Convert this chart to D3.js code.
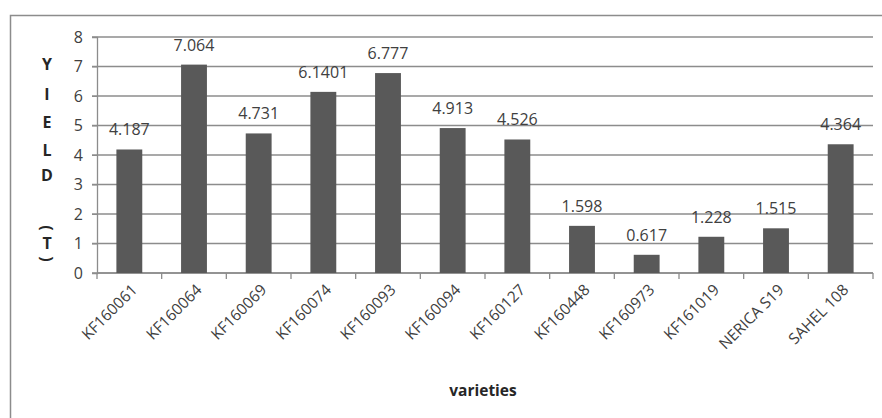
<!DOCTYPE html>
<html>
<head>
<meta charset="utf-8">
<script src="https://cdn.jsdelivr.net/npm/d3@7"></script>
<style>
  body { margin: 0; background: #fff; }
  text { font-family: "Open Sans", "Liberation Sans", sans-serif; }
</style>
</head>
<body>
<script>
let varieties = ["KF160061", "KF160064", "KF160069", "KF160074", "KF160093", "KF160094",
                 "KF160127", "KF160448", "KF160973", "KF161019", "NERICA S19", "SAHEL 108"];
let yieldValues = [4.187, 7.064, 4.731, 6.1401, 6.777, 4.913, 4.526, 1.598, 0.617, 1.228, 1.515, 4.364];
let yieldLabels = ["4.187", "7.064", "4.731", "6.1401", "6.777", "4.913", "4.526", "1.598", "0.617", "1.228", "1.515", "4.364"];
let yTicks = [0, 1, 2, 3, 4, 5, 6, 7, 8];
let yTitleChars = ["Y", "I", "E", "L", "D", "", "(", "T", ")"];

let margin = {top: 37, left: 97},
    width  = 776,
    height = 236;

let svg = d3.select("body").append("svg")
    .attr("width", 882)
    .attr("height", 418);

// outer chart border
svg.append("rect")
    .attr("x", 10.5).attr("y", 15.5)
    .attr("width", 900).attr("height", 500)
    .attr("fill", "none")
    .attr("stroke", "#8c8c8c")
    .attr("stroke-width", 1.5);

let g = svg.append("g")
    .attr("transform", `translate(${margin.left}, ${margin.top})`);

let xScale = d3.scaleBand()
    .domain(varieties)
    .range([0, width])
    .paddingInner(0.6)
    .paddingOuter(0.3);
let yScale = d3.scaleLinear()
    .domain([0, 8])
    .range([height, 0]);

// gridlines
g.append("g")
  .selectAll("line")
  .data(yTicks)
  .enter().append("line")
    .attr("x1", -5).attr("x2", width)
    .attr("y1", d => yScale(d)).attr("y2", d => yScale(d))
    .attr("stroke", "#8c8c8c")
    .attr("stroke-width", 1.3);

// y axis
let yAxis = d3.axisLeft(yScale).tickValues(yTicks).tickSize(5).tickPadding(9);
let yg = g.append("g").call(yAxis);
yg.select(".domain").attr("stroke", "#8c8c8c").attr("stroke-width", 1.3);
yg.selectAll(".tick line").attr("stroke", "#8c8c8c");
yg.selectAll(".tick text")
    .attr("font-size", 16)
    .attr("fill", "#404040");

// x axis with ticks at band boundaries
let step = xScale.step();
let xg = g.append("g").attr("transform", `translate(0, ${height})`);
xg.append("line")
    .attr("x1", 0).attr("x2", width)
    .attr("stroke", "#8c8c8c").attr("stroke-width", 1.3);
xg.selectAll("line.tk")
  .data(d3.range(varieties.length + 1))
  .enter().append("line")
    .attr("class", "tk")
    .attr("x1", i => i * step).attr("x2", i => i * step)
    .attr("y1", 0).attr("y2", 6)
    .attr("stroke", "#8c8c8c").attr("stroke-width", 1.3);
xg.selectAll("text")
  .data(varieties)
  .enter().append("text")
    .attr("transform", d => `translate(${xScale(d) + xScale.bandwidth() / 2 + 5}, 14) rotate(-45)`)
    .attr("text-anchor", "end")
    .attr("dy", "0.35em")
    .attr("font-size", 15.5)
    .attr("fill", "#404040")
    .text(d => d);

// bars
g.selectAll("rect.bar")
  .data(yieldValues)
  .enter().append("rect")
    .attr("class", "bar")
    .attr("x", (d, i) => xScale(varieties[i]))
    .attr("y", d => yScale(d))
    .attr("width", xScale.bandwidth())
    .attr("height", d => height - yScale(d))
    .attr("fill", "#595959");

// data labels
g.selectAll("text.lbl")
  .data(yieldValues)
  .enter().append("text")
    .attr("class", "lbl")
    .attr("x", (d, i) => xScale(varieties[i]) + xScale.bandwidth() / 2)
    .attr("y", d => yScale(d) - 14)
    .attr("text-anchor", "middle")
    .attr("font-size", 16)
    .attr("fill", "#404040")
    .text((d, i) => yieldLabels[i]);

// stacked y title
let titleY = [64, 94, 122, 150, 175, 200, 228, 243, 259];
let yt = svg.append("g");
yTitleChars.forEach((c, i) => {
  if (!c) return;
  let t = yt.append("text")
      .attr("font-size", 16)
      .attr("font-weight", "bold")
      .attr("fill", "#262626")
      .attr("text-anchor", "middle")
      .attr("dy", "0.35em")
      .text(c);
  if (c === "(" || c === ")") t.attr("transform", `translate(47, ${titleY[i]}) rotate(90)`);
  else t.attr("transform", `translate(47, ${titleY[i]})`);
});

// x title
svg.append("text")
    .attr("x", 483).attr("y", 396)
    .attr("text-anchor", "middle")
    .attr("font-size", 15.5)
    .attr("font-weight", "bold")
    .attr("fill", "#262626")
    .text("varieties");
</script>
</body>
</html>
